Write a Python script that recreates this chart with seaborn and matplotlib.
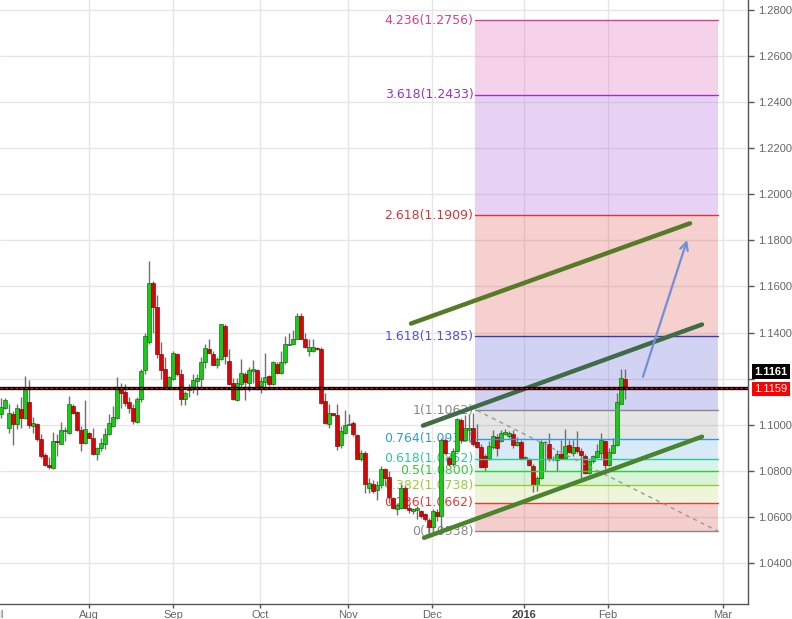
"""EUR/USD daily candles with Fibonacci extension levels and trend channel."""

import matplotlib

matplotlib.use("Agg")
import matplotlib.pyplot as plt
import numpy as np
import pandas as pd
import seaborn as sns

# daily candles (bar index = trading day, mid-Jul 2015 .. 10 Feb 2016)
opens = [
    1.1048, 1.1074, 1.0987, 1.1048, 1.1004, 1.1070, 1.1031, 1.1100, 1.0996, 1.1004,
    1.0939, 1.0870, 1.0826, 1.0813, 1.0930, 1.0917, 1.0974, 1.0965, 1.1083, 1.1057,
    1.0978, 1.0922, 1.0965, 1.0943, 1.0874, 1.0900, 1.0917, 1.0961, 1.0996, 1.1031,
    1.1157, 1.1144, 1.1100, 1.1074, 1.1013, 1.1113, 1.1239, 1.1357, 1.1613, 1.1513,
    1.1309, 1.1243, 1.1165, 1.1200, 1.1309, 1.1222, 1.1113, 1.1152, 1.1161, 1.1191,
    1.1200, 1.1270, 1.1330, 1.1309, 1.1261, 1.1287, 1.1430, 1.1278, 1.1183, 1.1109,
    1.1178, 1.1222, 1.1183, 1.1235, 1.1239, 1.1170, 1.1187, 1.1213, 1.1178, 1.1265,
    1.1226, 1.1270, 1.1348, 1.1352, 1.1374, 1.1470, 1.1374, 1.1322, 1.1322, 1.1335,
    1.1330, 1.1104, 1.1004, 1.1052, 1.1044, 1.0913, 1.0965, 1.1000, 1.1009, 1.0957,
    1.0852, 1.0878, 1.0726, 1.0743, 1.0717, 1.0739, 1.0809, 1.0774, 1.0683, 1.0635,
    1.0639, 1.0726, 1.0639, 1.0626, 1.0630, 1.0626, 1.0613, 1.0587, 1.0557, 1.0622,
    1.0604, 1.0935, 1.0857, 1.0830, 1.0887, 1.1022, 1.0935, 1.0978, 1.0987, 1.0926,
    1.0904, 1.0865, 1.0857, 1.0904, 1.0948, 1.0930, 1.0961, 1.0952, 1.0961, 1.0913,
    1.0926, 1.0855, 1.0852, 1.0822, 1.0739, 1.0770, 1.0924, 1.0917, 1.0850, 1.0848,
    1.0874, 1.0857, 1.0913, 1.0878, 1.0904, 1.0887, 1.0865, 1.0791, 1.0843, 1.0861,
    1.0878, 1.0930, 1.0826, 1.0878, 1.0913, 1.1091, 1.1200,
]
highs = [
    1.1117, 1.1117, 1.1091, 1.1061, 1.1091, 1.1122, 1.1213, 1.1196, 1.1035, 1.1009,
    1.0961, 1.0878, 1.0861, 1.0970, 1.0961, 1.1013, 1.0991, 1.1126, 1.1091, 1.1061,
    1.0996, 1.1109, 1.0970, 1.0987, 1.0904, 1.0943, 1.0987, 1.1048, 1.1083, 1.1209,
    1.1183, 1.1178, 1.1122, 1.1091, 1.1122, 1.1243, 1.1396, 1.1709, 1.1622, 1.1561,
    1.1361, 1.1296, 1.1213, 1.1322, 1.1313, 1.1243, 1.1148, 1.1178, 1.1222, 1.1222,
    1.1296, 1.1352, 1.1374, 1.1322, 1.1296, 1.1439, 1.1439, 1.1330, 1.1204, 1.1204,
    1.1287, 1.1230, 1.1252, 1.1283, 1.1243, 1.1209, 1.1313, 1.1217, 1.1278, 1.1270,
    1.1322, 1.1387, 1.1396, 1.1413, 1.1487, 1.1487, 1.1396, 1.1374, 1.1374, 1.1339,
    1.1339, 1.1139, 1.1091, 1.1052, 1.1091, 1.0996, 1.1065, 1.1048, 1.1017, 1.0961,
    1.0891, 1.0887, 1.0770, 1.0761, 1.0757, 1.0822, 1.0813, 1.0800, 1.0687, 1.0661,
    1.0743, 1.0735, 1.0657, 1.0639, 1.0648, 1.0630, 1.0617, 1.0596, 1.0635, 1.0635,
    1.0943, 1.0943, 1.0865, 1.0900, 1.1031, 1.1031, 1.1044, 1.1048, 1.1052, 1.1004,
    1.0917, 1.0874, 1.0930, 1.0978, 1.0961, 1.0978, 1.0983, 1.0974, 1.0978, 1.0948,
    1.0935, 1.0865, 1.0857, 1.0830, 1.0778, 1.0935, 1.0930, 1.0965, 1.0865, 1.0891,
    1.0935, 1.0983, 1.0935, 1.0935, 1.0974, 1.0900, 1.0874, 1.0848, 1.0870, 1.0917,
    1.0965, 1.0935, 1.0900, 1.0943, 1.1139, 1.1243, 1.1243,
]
lows = [
    1.1031, 1.1070, 1.0965, 1.0913, 1.0983, 1.0987, 1.1026, 1.0987, 1.0965, 1.0930,
    1.0857, 1.0822, 1.0809, 1.0809, 1.0865, 1.0915, 1.0930, 1.0961, 1.1048, 1.0974,
    1.0887, 1.0917, 1.0941, 1.0870, 1.0848, 1.0887, 1.0896, 1.0957, 1.0991, 1.1026,
    1.1074, 1.1083, 1.1052, 1.1004, 1.1009, 1.1100, 1.1222, 1.1352, 1.1396, 1.1291,
    1.1200, 1.1161, 1.1161, 1.1196, 1.1213, 1.1087, 1.1087, 1.1122, 1.1139, 1.1131,
    1.1165, 1.1248, 1.1309, 1.1257, 1.1248, 1.1283, 1.1265, 1.1174, 1.1109, 1.1104,
    1.1152, 1.1109, 1.1148, 1.1183, 1.1152, 1.1139, 1.1152, 1.1170, 1.1174, 1.1222,
    1.1222, 1.1265, 1.1344, 1.1348, 1.1370, 1.1370, 1.1335, 1.1300, 1.1317, 1.1326,
    1.1091, 1.1004, 1.0987, 1.1039, 1.0891, 1.0900, 1.0961, 1.0998, 1.0952, 1.0850,
    1.0843, 1.0704, 1.0704, 1.0704, 1.0674, 1.0726, 1.0735, 1.0661, 1.0635, 1.0609,
    1.0635, 1.0635, 1.0617, 1.0613, 1.0591, 1.0596, 1.0583, 1.0530, 1.0530, 1.0583,
    1.0526, 1.0874, 1.0822, 1.0822, 1.0883, 1.0922, 1.0930, 1.0930, 1.0909, 1.0900,
    1.0813, 1.0800, 1.0848, 1.0896, 1.0865, 1.0926, 1.0957, 1.0943, 1.0900, 1.0909,
    1.0848, 1.0852, 1.0822, 1.0709, 1.0713, 1.0765, 1.0800, 1.0843, 1.0843, 1.0800,
    1.0852, 1.0852, 1.0878, 1.0865, 1.0878, 1.0770, 1.0787, 1.0787, 1.0835, 1.0857,
    1.0857, 1.0809, 1.0822, 1.0878, 1.0909, 1.1091, 1.1113,
]
closes = [
    1.1078, 1.1109, 1.1052, 1.1004, 1.1074, 1.1031, 1.1157, 1.1000, 1.1009, 1.0939,
    1.0865, 1.0826, 1.0817, 1.0930, 1.0926, 1.0978, 1.0978, 1.1091, 1.1052, 1.0978,
    1.0922, 1.0983, 1.0943, 1.0874, 1.0900, 1.0922, 1.0961, 1.1009, 1.1035, 1.1157,
    1.1139, 1.1096, 1.1074, 1.1017, 1.1113, 1.1235, 1.1387, 1.1617, 1.1509, 1.1309,
    1.1239, 1.1170, 1.1209, 1.1313, 1.1222, 1.1113, 1.1139, 1.1161, 1.1196, 1.1204,
    1.1274, 1.1335, 1.1313, 1.1261, 1.1287, 1.1435, 1.1300, 1.1178, 1.1113, 1.1183,
    1.1226, 1.1187, 1.1239, 1.1243, 1.1170, 1.1191, 1.1209, 1.1178, 1.1270, 1.1226,
    1.1274, 1.1352, 1.1352, 1.1374, 1.1470, 1.1374, 1.1339, 1.1339, 1.1339, 1.1330,
    1.1096, 1.1009, 1.1052, 1.1044, 1.0909, 1.0974, 1.1000, 1.1004, 1.0961, 1.0852,
    1.0878, 1.0743, 1.0748, 1.0713, 1.0739, 1.0809, 1.0770, 1.0687, 1.0639, 1.0652,
    1.0726, 1.0639, 1.0630, 1.0635, 1.0639, 1.0604, 1.0591, 1.0557, 1.0626, 1.0604,
    1.0935, 1.0878, 1.0830, 1.0887, 1.1026, 1.0935, 1.0987, 1.0987, 1.0917, 1.0904,
    1.0817, 1.0817, 1.0909, 1.0952, 1.0900, 1.0965, 1.0970, 1.0965, 1.0913, 1.0926,
    1.0857, 1.0857, 1.0826, 1.0743, 1.0770, 1.0926, 1.0926, 1.0857, 1.0852, 1.0874,
    1.0857, 1.0909, 1.0883, 1.0904, 1.0887, 1.0870, 1.0791, 1.0843, 1.0865, 1.0887,
    1.0935, 1.0826, 1.0883, 1.0913, 1.1100, 1.1204, 1.1157,
]

month_labels = ["Aug", "Sep", "Oct", "Nov", "Dec", "2016", "Feb", "Mar"]
month_pos = [22.1, 43.1, 64.8, 86.8, 107.75, 130.7, 151.7, 180.5]
jul_pos = -1.0

# Fibonacci extension drawn from the December low
fib_ratios = ["0", "0.236", "0.382", "0.5", "0.618", "0.764", "1", "1.618", "2.618", "3.618", "4.236"]
fib_prices = [1.0538, 1.0662, 1.0738, 1.0800, 1.0852, 1.0938, 1.1062, 1.1385, 1.1909, 1.2433, 1.2756]
fib_start, fib_end = 118.5, 179.25
fib_line_colors = ["#888888", "#e0403c", "#9acd32", "#33cc33", "#30c898", "#3399dd",
                   "#888888", "#3a3aaa", "#dd3333", "#9933cc", "#d0409a"]
fib_text_colors = ["#888888", "#e0403c", "#9acd32", "#33cc33", "#30c898", "#3399dd",
                   "#888888", "#5050d8", "#dd3333", "#9933cc", "#d0409a"]
fib_fill_colors = [(0.86, 0.24, 0.24, 0.25), (0.67, 0.82, 0.24, 0.2), (0.24, 0.78, 0.24, 0.2),
                   (0.2, 0.78, 0.63, 0.2), (0.24, 0.59, 0.86, 0.2), (0.5, 0.5, 0.5, 0.2),
                   (0.31, 0.31, 0.82, 0.25), (0.86, 0.27, 0.24, 0.25), (0.63, 0.31, 0.86, 0.25),
                   (0.86, 0.31, 0.67, 0.25)]

# channel lines and projection arrow
upper_x, upper_y = [102.5, 172.25], [1.1439, 1.1874]
middle_x, middle_y = [105.5, 175.25], [1.0996, 1.1435]
lower_x, lower_y = [105.75, 175.25], [1.0509, 1.0948]
diag_x, diag_y = [119.0, 179.25], [1.1062, 1.0538]
arrow_x, arrow_y = [160.25, 171.75], [1.1196, 1.1813]

last_price, bid_price = 1.1161, 1.1159

sns.set_theme(style="white")
plt.rcParams["font.family"] = ["DejaVu Sans"]

df = pd.DataFrame({"open": opens, "high": highs, "low": lows, "close": closes})
df["x"] = np.arange(len(df))
df["up"] = df["close"] >= df["open"]

fig = plt.figure(figsize=(7.92, 6.19), dpi=100)
ax = fig.add_axes([0, 15 / 619, 748 / 792, 604 / 619])
ax.set_xlim(-0.25, 186.75)
ax.set_ylim(1.02217, 1.28435)

# fib zones, levels and labels
for i in range(len(fib_prices) - 1):
    ax.fill_between([fib_start, fib_end], fib_prices[i], fib_prices[i + 1],
                    color=fib_fill_colors[i], lw=0, zorder=0.6)
for ratio, price, lc, tc in zip(fib_ratios, fib_prices, fib_line_colors, fib_text_colors):
    ax.plot([fib_start, fib_end], [price, price], color=lc, lw=1, zorder=2.5)
    ax.text(fib_start - 0.4, price, f"{ratio}({price:.4f})", color=tc, fontsize=9,
            ha="right", va="center", zorder=1.5)
ax.plot(diag_x, diag_y, color="#9a9a9a", lw=1, ls=(0, (3, 3)), zorder=2.6)

# candles
body_lo = df[["open", "close"]].min(axis=1)
body_h = (df["close"] - df["open"]).abs().clip(lower=0.0003)
ax.vlines(df["x"], df["low"], df["high"], color="#707070", lw=1, zorder=1.8)
up, dn = df[df["up"]], df[~df["up"]]
ax.bar(up["x"], body_h[df["up"]], bottom=body_lo[df["up"]], width=0.8,
       color="#0fd20f", edgecolor="#225522", linewidth=0.45, zorder=2)
ax.bar(dn["x"], body_h[~df["up"]], bottom=body_lo[~df["up"]], width=0.8,
       color="#e40000", edgecolor="#551515", linewidth=0.45, zorder=2)

# channel
sns.lineplot(x=upper_x, y=upper_y, ax=ax, color="#567a26", lw=3.2, zorder=3, legend=False)
sns.lineplot(x=middle_x, y=middle_y, ax=ax, color="#3e6c46", lw=3.2, zorder=3, legend=False)
sns.lineplot(x=lower_x, y=lower_y, ax=ax, color="#4a842e", lw=3.2, zorder=3, legend=False)
ax.annotate("", xy=(arrow_x[1], arrow_y[1]), xytext=(arrow_x[0], arrow_y[0]),
            arrowprops=dict(arrowstyle="->", color="#7090d8", lw=1.6, mutation_scale=14),
            zorder=3)

# current price lines
ax.axhline(last_price, color="black", lw=2.4, zorder=3.5)
ax.axhline((last_price + bid_price) / 2, color="#ff0000", lw=0.9, ls=(0, (2, 2)), zorder=3.6)

# axes styling
ax.grid(True, color="#e6e6e6", lw=1)
ax.set_axisbelow(True)
for side in ["left", "top"]:
    ax.spines[side].set_visible(False)
for side in ["right", "bottom"]:
    ax.spines[side].set_color("#555555")
    ax.spines[side].set_linewidth(1)
yt = np.arange(1.04, 1.2801, 0.02)
ax.yaxis.tick_right()
ax.set_yticks(yt)
# the 1.1200 label sits under the price tags and is hidden in the reference
ax.set_yticklabels(["" if abs(v - 1.12) < 1e-6 else f"{v:.4f}" for v in yt])
ax.set_xticks(month_pos)
ax.set_xticklabels(month_labels)
ax.tick_params(axis="y", direction="out", length=4, width=1, color="#555555",
               labelsize=8, labelcolor="#666666", pad=3, right=True)
ax.tick_params(axis="x", direction="out", length=3, width=1, color="#555555",
               labelsize=8, labelcolor="#666666", pad=1, bottom=True)
for lab in ax.get_xticklabels() + ax.get_yticklabels():
    lab.set_fontfamily("Liberation Sans")
for lab in ax.get_xticklabels():
    if lab.get_text() == "2016":
        lab.set_fontweight("bold")
        lab.set_color("#444444")
ax.annotate("Jul", xy=(jul_pos, 0), xycoords=("data", "axes fraction"), xytext=(0, -4),
            textcoords="offset points", ha="center", va="top", fontsize=8,
            color="#666666", family="Liberation Sans", annotation_clip=False)

# price tags on the right axis
ax.annotate(f"{last_price:.4f}", xy=(1, last_price), xycoords=("axes fraction", "data"),
            xytext=(4.5, 11.5), textcoords="offset points", ha="left", va="center",
            color="white", fontsize=8, fontweight="bold", family="Liberation Sans",
            bbox=dict(boxstyle="square,pad=0.2", fc="black", ec="none"), annotation_clip=False)
ax.annotate(f"{bid_price:.4f}", xy=(1, bid_price), xycoords=("axes fraction", "data"),
            xytext=(4.5, -0.5), textcoords="offset points", ha="left", va="center",
            color="white", fontsize=8, family="Liberation Sans",
            bbox=dict(boxstyle="square,pad=0.2", fc="#ff0000", ec="none"), annotation_clip=False)

fig.savefig("out.png", dpi=100)
